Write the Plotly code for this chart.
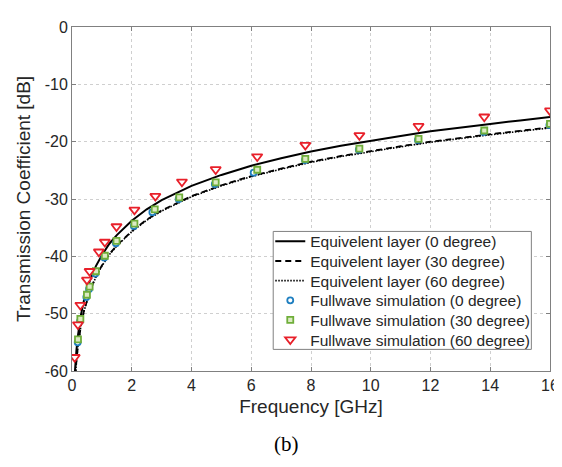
import plotly.graph_objects as go

# ---- data ----
line_freq = [0.09, 0.1, 0.12, 0.15, 0.2, 0.25, 0.3, 0.4, 0.5, 0.6, 0.8, 1.0, 1.25, 1.5, 2, 2.5, 3, 4, 5, 6,
             7, 8, 9, 10, 11, 12, 13, 14, 15, 16]
eq_0deg = [-60.7, -59.8, -58.2, -56.3, -53.8, -51.8, -50.2, -47.7, -45.8, -44.2, -41.7, -39.8, -37.8, -36.3,
           -33.8, -31.8, -30.2, -27.7, -25.8, -24.2, -22.9, -21.7, -20.7, -19.8, -19.0, -18.2, -17.5, -16.9,
           -16.3, -15.7]
eq_30deg = [-62.5, -61.6, -60.0, -58.1, -55.6, -53.6, -52.0, -49.5, -47.6, -46.0, -43.5, -41.6, -39.6, -38.1,
            -35.6, -33.6, -32.0, -29.5, -27.6, -26.0, -24.7, -23.5, -22.5, -21.6, -20.8, -20.0, -19.3, -18.7,
            -18.1, -17.5]
eq_60deg = [-62.6, -61.7, -60.1, -58.2, -55.7, -53.7, -52.1, -49.6, -47.7, -46.1, -43.6, -41.7, -39.7, -38.2,
            -35.7, -33.7, -32.1, -29.6, -27.7, -26.1, -24.8, -23.6, -22.6, -21.7, -20.9, -20.1, -19.4, -18.8,
            -18.2, -17.6]

fw0_freq = [0.19, 0.27, 0.48, 0.57, 0.78, 1.08, 1.47, 2.07, 2.69, 3.57, 4.78, 6.08, 7.8, 9.6, 11.58, 13.78, 15.98]
fw0_db = [-55.0, -51.3, -47.1, -45.7, -43.0, -40.2, -37.7, -34.7, -32.3, -30.0, -27.4, -25.4, -23.2, -21.4,
          -19.7, -18.3, -17.1]

fw30_freq = [0.2, 0.28, 0.5, 0.59, 0.8, 1.1, 1.49, 2.09, 2.77, 3.59, 4.81, 6.2, 7.81, 9.62, 11.6, 13.8, 16.0]
fw30_db = [-54.5, -50.9, -46.7, -45.3, -42.6, -39.9, -37.3, -34.3, -31.8, -29.7, -27.1, -24.9, -23.0, -21.2,
           -19.5, -18.05, -16.9]

fw60_freq = [0.09, 0.2, 0.28, 0.5, 0.59, 0.9, 1.1, 1.49, 2.09, 2.79, 3.68, 4.81, 6.2, 7.81, 9.62, 11.6, 13.8, 16.0]
fw60_db = [-57.6, -51.9, -48.5, -44.1, -42.6, -39.2, -37.5, -34.8, -31.9, -29.5, -27.0, -24.85, -22.6, -20.6,
           -18.9, -17.3, -15.65, -14.6]

x_ticks = [0, 2, 4, 6, 8, 10, 12, 14, 16]
y_ticks = [0, -10, -20, -30, -40, -50, -60]
y_tick_labels = ["0", "-10", "-20", "-30", "-40", "-50", "-60"]

FONT = "Arial, Liberation Sans, sans-serif"
TXT = "#262626"

W, H = 562, 467
ML, MR, MT, MB = 64, 11, 13, 104
PW, PH = W - ML - MR, H - MT - MB


def px_x(p):
    return (p - ML) / PW


def px_y(p):
    return 1 - (p - MT) / PH


legend_names = ["legend", "legend2", "legend3", "legend4", "legend5", "legend6"]

fig = go.Figure()
fig.add_trace(go.Scatter(x=line_freq, y=eq_0deg, mode="lines", name="Equivelent layer (0 degree)",
                         line=dict(color="black", width=2), legend=legend_names[0]))
fig.add_trace(go.Scatter(x=line_freq, y=eq_30deg, mode="lines", name="Equivelent layer (30 degree)",
                         line=dict(color="black", width=1.8, dash="6px,4px"), legend=legend_names[1]))
fig.add_trace(go.Scatter(x=line_freq, y=eq_60deg, mode="lines", name="Equivelent layer (60 degree)",
                         line=dict(color="black", width=1.6, dash="1.5px,1.5px"), legend=legend_names[2]))
fig.add_trace(go.Scatter(x=fw0_freq, y=fw0_db, mode="markers", name="Fullwave simulation (0 degree)",
                         marker=dict(symbol="circle", size=6, color="white",
                                     line=dict(color="#1f7fc0", width=1.8)), legend=legend_names[3]))
fig.add_trace(go.Scatter(x=fw30_freq, y=fw30_db, mode="markers", name="Fullwave simulation (30 degree)",
                         marker=dict(symbol="square", size=6, color="#dcebc4",
                                     line=dict(color="#6fae3a", width=1.8)), legend=legend_names[4]))
fig.add_trace(go.Scatter(x=fw60_freq, y=fw60_db, mode="markers", name="Fullwave simulation (60 degree)",
                         marker=dict(symbol="triangle-down", size=9, color="white",
                                     line=dict(color="#e8202a", width=1.8)), legend=legend_names[5]))

axis_common = dict(showline=True, linecolor="#808080", linewidth=1, mirror="ticks",
                   ticks="inside", ticklen=4, tickcolor="#808080",
                   showgrid=True, gridcolor="#cfcfcf", griddash="dot", gridwidth=1,
                   zeroline=False, tickfont=dict(family=FONT, size=16, color=TXT))

fig.update_xaxes(range=[0, 16], tickvals=x_ticks,
                 title=dict(text="Frequency [GHz]", font=dict(family=FONT, size=19, color=TXT), standoff=6),
                 **axis_common)
fig.update_yaxes(range=[-60, 0], tickvals=y_ticks, ticktext=y_tick_labels, **axis_common)

# y-axis title placed precisely
fig.add_annotation(text="Transmission Coefficient [dB]", xref="paper", yref="paper",
                   x=px_x(14), y=0.5, textangle=-90, showarrow=False, xanchor="center", yanchor="middle",
                   font=dict(family=FONT, size=19, color=TXT))

fig.add_annotation(text="(b)", xref="paper", yref="paper", x=px_x(283), y=px_y(452),
                   showarrow=False, font=dict(family="Liberation Serif, Times New Roman, serif", size=21,
                                              color="black"))

# legend frame
fig.add_shape(type="rect", xref="paper", yref="paper", x0=px_x(269), x1=px_x(532), y0=px_y(341), y1=px_y(221),
              line=dict(color="#808080", width=1), fillcolor="white", layer="above")

row_y = [231.5, 251.5, 271.5, 291.5, 311.5, 331.5]
legends = {}
for name, ry in zip(legend_names, row_y):
    legends[name] = dict(x=px_x(266), y=px_y(ry), xanchor="left", yanchor="middle",
                         bgcolor="rgba(0,0,0,0)", borderwidth=0,
                         font=dict(family=FONT, size=15.5, color=TXT), itemwidth=30)

fig.update_layout(
    width=W, height=H,
    margin=dict(l=ML, r=MR, t=MT, b=MB),
    paper_bgcolor="white", plot_bgcolor="white",
    showlegend=True,
    **legends,
)

fig.write_html("out.html")
